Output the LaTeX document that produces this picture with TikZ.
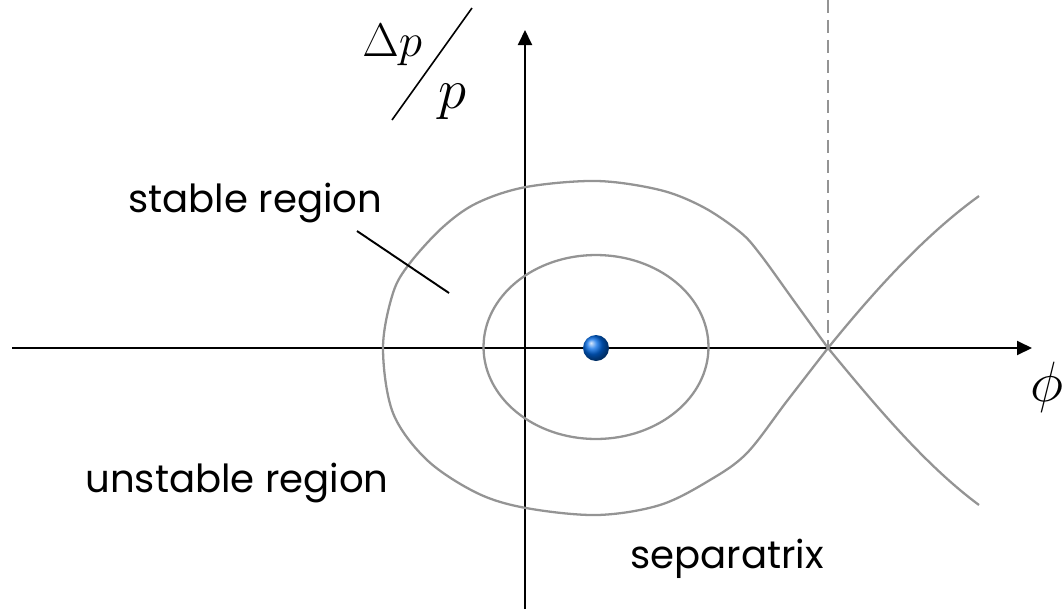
\documentclass[tikz,border=0pt]{standalone}
\usepackage{fontspec}
\setsansfont{Poppins}
\usepackage{amsmath}
\usepackage{graphicx}
\usepackage{tikz}
\usetikzlibrary{arrows.meta, calc}

\begin{document}
\begin{tikzpicture}[
        x=0.02cm, y=-0.02cm,
        font=\sffamily,
        >={Triangle[length=0.3cm, width=0.28cm]},
        axis/.style={line width=1.1pt, black},
        orbit/.style={line width=1.3pt, black!42},
        lbl/.style={anchor=base west, inner sep=0pt, font=\fontsize{22}{26}\selectfont\sffamily},
        mlbl/.style={anchor=base west, inner sep=0pt, font=\fontsize{24}{26}\selectfont},
        every node/.style={align=center}
    ]

    % Canvas
    \useasboundingbox (0,0) rectangle (1062,609);

    % Constants (pixels)
    \def\ox{525}       % vertical axis
    \def\oy{348}       % horizontal axis
    \def\xs{828}       % unstable fixed point

    % --- Axes ---
    \coordinate (xl) at (12,\oy);
    \coordinate (xr) at (1032,\oy);
    \coordinate (yb) at (\ox,609);
    \coordinate (yt) at (\ox,30);
    \draw[axis, ->] (xl) -- (xr);
    \draw[axis, ->] (yb) -- (yt);

    \node[mlbl] (phi) at (1030,401) {\scalebox{1.3}{$\phi$}};

    % Axis label dp/p
    \node[mlbl] (dp) at (362,56) {\scalebox{1.08}{$\Delta p$}};
    \node[mlbl] (pp) at (438,108) {\scalebox{1.3}{$p$}};
    \draw[line width=0.9pt] (392,120) -- (472,8);

    % --- Separatrix ---
    \coordinate (xp) at (\xs,\oy);
    \coordinate (top) at (\xs,0);
    \draw[orbit, dash pattern=on 0.26cm off 0.14cm] (top) -- (xp);

    \draw[orbit] plot[smooth, tension=0.55] coordinates {
        (828,348) (794,301) (760,254) (740,232) (703,207)
        (660,190) (597,181) (526,187) (477,203) (443,227) (410,263)
        (393,293) (383,348) (393,413) (427,460) (477,493) (526,508)
        (597,515) (660,505) (710,480) (747,453) (787,401)
        (828,348)};
    \draw[orbit] (xp) .. controls (875,290) and (925,235) .. (979,196);
    \draw[orbit] (xp) .. controls (875,405) and (925,465) .. (979,505);

    % --- Inner orbit and fixed point ---
    \draw[orbit] (596,347) ellipse[x radius=2.25cm, y radius=1.84cm];
    \node[circle, minimum size=0.52cm, inner sep=0pt,
          ball color={rgb,255:red,0;green,105;blue,230}] (fp) at (596,348) {};

    % --- Labels ---
    \node[lbl] (stab) at (128,212) {stable region};
    \node[lbl] (unst) at (85,492) {unstable region};
    \node[lbl] (sepx) at (630,568) {separatrix};

    \coordinate (lead) at (449,293);
    \draw[line width=1.1pt] (357,231) -- (lead);

\end{tikzpicture}
\end{document}
